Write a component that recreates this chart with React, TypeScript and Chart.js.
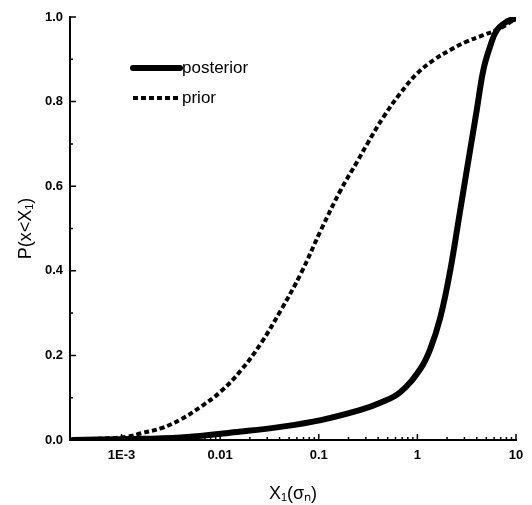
import React, { useEffect, useRef } from "react";
import { Chart, registerables } from "chart.js";

Chart.register(...registerables);

const priorX = [0.00032, 0.0006, 0.00117, 0.00159, 0.00254, 0.004, 0.0064, 0.0102, 0.0163, 0.026, 0.0413, 0.066, 0.105, 0.167, 0.248, 0.31, 0.454, 0.673, 1.0, 1.46, 2.15, 3.17, 4.65, 6.9, 10];
const priorY = [0.001, 0.003, 0.008, 0.016, 0.028, 0.049, 0.079, 0.115, 0.165, 0.229, 0.307, 0.394, 0.496, 0.591, 0.66, 0.7, 0.764, 0.82, 0.867, 0.898, 0.922, 0.942, 0.957, 0.973, 0.997];

const posteriorX = [0.00032, 0.001, 0.004, 0.0163, 0.041, 0.105, 0.265, 0.42, 0.67, 1.07, 1.35, 1.71, 2.15, 2.72, 3.43, 4.0, 4.67, 5.46, 6.4, 8.05, 10];
const posteriorY = [0.0, 0.002, 0.006, 0.02, 0.031, 0.047, 0.071, 0.088, 0.113, 0.168, 0.215, 0.29, 0.4, 0.544, 0.686, 0.78, 0.875, 0.93, 0.969, 0.989, 0.997];

const xMajorTicks = [0.001, 0.01, 0.1, 1, 10];
const xTickLabels = ["1E-3", "0.01", "0.1", "1", "10"];
const yMajorTicks = [0, 0.2, 0.4, 0.6, 0.8, 1.0];
const yMinorTicks = [0.1, 0.3, 0.5, 0.7, 0.9];

const FONT = "'Liberation Sans', Arial, sans-serif";

const innerTicks = {
  id: "innerTicks",
  afterDatasetsDraw(chart: any) {
    const { ctx, chartArea, scales } = chart;
    const xs = scales.x;
    const ys = scales.y;
    ctx.save();
    ctx.strokeStyle = "#000";
    ctx.lineWidth = 1.5;
    ctx.beginPath();
    for (let e = -4; e <= 1; e++) {
      for (let m = 1; m <= 9; m++) {
        const v = m * Math.pow(10, e);
        if (v < xs.min || v > xs.max) continue;
        const px = xs.getPixelForValue(v);
        const len = m === 1 ? 6 : 3;
        ctx.moveTo(px, chartArea.bottom);
        ctx.lineTo(px, chartArea.bottom - len);
      }
    }
    for (const v of yMajorTicks) {
      const py = ys.getPixelForValue(v);
      ctx.moveTo(chartArea.left, py);
      ctx.lineTo(chartArea.left + 6, py);
    }
    for (const v of yMinorTicks) {
      const py = ys.getPixelForValue(v);
      ctx.moveTo(chartArea.left, py);
      ctx.lineTo(chartArea.left + 3, py);
    }
    ctx.stroke();
    ctx.restore();
  },
};

const legendPlugin = {
  id: "customLegend",
  afterDraw(chart: any) {
    const { ctx, chartArea, data } = chart;
    const x0 = chartArea.left + 63;
    const x1 = chartArea.left + 110;
    const rows = [chartArea.top + 51, chartArea.top + 81];
    ctx.save();
    data.datasets.forEach((ds: any, i: number) => {
      const y = rows[i];
      ctx.beginPath();
      ctx.strokeStyle = "#000";
      ctx.lineWidth = ds.borderWidth;
      ctx.lineCap = ds.borderCapStyle || "butt";
      ctx.setLineDash(ds.borderDash || []);
      ctx.moveTo(x0, y);
      ctx.lineTo(x1, y);
      ctx.stroke();
      ctx.setLineDash([]);
      ctx.fillStyle = "#000";
      ctx.font = `17px ${FONT}`;
      ctx.textBaseline = "middle";
      ctx.textAlign = "left";
      ctx.fillText(ds.label, x1 + 2, y);
    });
    ctx.restore();
  },
};

export default function App() {
  const ref = useRef<HTMLCanvasElement | null>(null);
  useEffect(() => {
    if (!ref.current) return;
    const chart = new Chart(ref.current, {
      type: "line",
      data: {
        datasets: [
          {
            label: "posterior",
            data: posteriorX.map((x, i) => ({ x, y: posteriorY[i] })),
            borderColor: "#000",
            borderWidth: 6,
            pointRadius: 0,
            tension: 0.4,
            borderCapStyle: "round",
            borderJoinStyle: "round",
          },
          {
            label: "prior",
            data: priorX.map((x, i) => ({ x, y: priorY[i] })),
            borderColor: "#000",
            borderWidth: 4,
            borderDash: [5, 3],
            borderCapStyle: "butt",
            pointRadius: 0,
            tension: 0.4,
          },
        ],
      },
      options: {
        responsive: false,
        animation: false,
        devicePixelRatio: 1,
        layout: { padding: { top: 17, right: 16, left: 0, bottom: 0 } },
        plugins: { legend: { display: false }, tooltip: { enabled: false } },
        scales: {
          x: {
            type: "logarithmic",
            min: 0.00032,
            max: 10,
            afterFit: (s: any) => { s.height = 65; },
            afterBuildTicks: (s: any) => { s.ticks = xMajorTicks.map((v) => ({ value: v })); },
            ticks: {
              autoSkip: false,
              maxRotation: 0,
              padding: 8,
              color: "#000",
              font: { family: FONT, size: 13, weight: "bold" },
              callback: (v: any) => {
                const i = xMajorTicks.findIndex((t) => Math.abs(t - v) / t < 1e-6);
                return i >= 0 ? xTickLabels[i] : "";
              },
            },
            grid: { display: false, drawTicks: false },
            border: { display: true, color: "#000", width: 2 },
            title: {
              display: true,
              text: "X₁(σₙ)",
              color: "#000",
              font: { family: FONT, size: 18 },
              padding: { top: 0, bottom: 0 },
            },
          },
          y: {
            type: "linear",
            min: 0,
            max: 1,
            afterFit: (s: any) => { s.width = 70; },
            afterBuildTicks: (s: any) => { s.ticks = yMajorTicks.map((v) => ({ value: v })); },
            ticks: {
              padding: 7,
              color: "#000",
              font: { family: FONT, size: 13, weight: "bold" },
              callback: (v: any) => Number(v).toFixed(1),
            },
            grid: { display: false, drawTicks: false },
            border: { display: true, color: "#000", width: 2 },
            title: {
              display: true,
              text: "P(x<X₁)",
              color: "#000",
              font: { family: FONT, size: 18 },
              padding: { top: 15, bottom: 0 },
            },
          },
        },
      },
      plugins: [innerTicks, legendPlugin],
    } as any);
    return () => chart.destroy();
  }, []);
  return (
    <div style={{ position: "absolute", left: 0, top: 0, width: 532, height: 505, background: "#fff" }}>
      <canvas ref={ref} width={532} height={505} style={{ display: "block" }} />
    </div>
  );
}
